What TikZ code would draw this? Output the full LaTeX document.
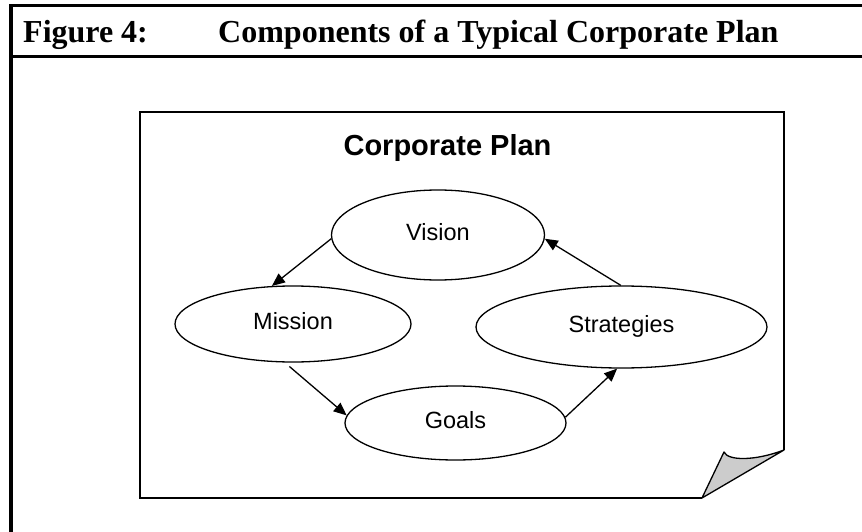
\documentclass[tikz,border=0pt]{standalone}
\usepackage{fontspec}
\setmainfont{Liberation Serif}
\setsansfont{Liberation Sans}
\usetikzlibrary{shapes.geometric,arrows.meta}

\begin{document}
\begin{tikzpicture}[x=1pt, y=-1pt, >={Triangle[length=13pt,width=11pt]},
    stage/.style={draw, ellipse, line width=1.3pt, inner sep=0pt,
      font=\sffamily\fontsize{23.5}{26}\selectfont, text height=17pt, text depth=7pt},
    flow/.style={->, line width=1.3pt},
    headline/.style={anchor=base west, inner sep=0pt, font=\bfseries\fontsize{32}{36}\selectfont}]

      \useasboundingbox (0,0) rectangle (862,532);

      \draw[line width=3.5pt] (870,5.5) -- (11,5.5) -- (11,540);
      \draw[line width=3pt] (11,57) -- (870,57);
      \node[headline] (fig) at (23,43) {Figure 4:};
      \node[headline] (title) at (218,43) {Components of a Typical Corporate Plan};

      \draw[line width=1.6pt] (702,498) -- (140,498) -- (140,112) -- (784,112) -- (784,450);
      \filldraw[fill=black!20, line width=1.3pt, line join=round] (702,498) -- (724,452)
      .. controls (728,461) and (755,461) .. (784,450) -- cycle;

      \node[anchor=base, inner sep=0pt, font=\sffamily\bfseries\fontsize{29}{32}\selectfont] (plan) at (447.5,156) {Corporate Plan};

      \node[stage, minimum width=213pt, minimum height=90pt] (vision) at (438,235) {Vision};
      \node[stage, minimum width=236pt, minimum height=76pt] (mission) at (293,324) {Mission};
      \node[stage, minimum width=221pt, minimum height=74pt] (goals) at (455.5,423) {Goals};
      \node[stage, minimum width=291pt, minimum height=82pt] (strategies) at (621.5,327) {Strategies};

      \draw[flow] (vision.182) -- (mission.119);
      \draw[flow, shorten <=6pt] (mission.258) -- (goals.176);
      \draw[flow] (goals.3) -- (strategies.264);
      \draw[flow] (strategies.91) -- (vision.358);
    \end{tikzpicture}
\end{document}
